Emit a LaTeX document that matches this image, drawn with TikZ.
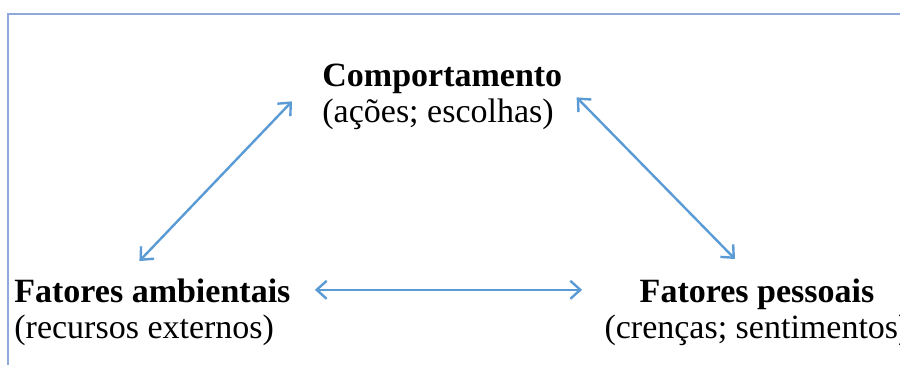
\documentclass[tikz,border=0pt]{standalone}
\usepackage{fontspec}
\setmainfont{Liberation Serif}
\usepackage{tikz}
\usetikzlibrary{arrows.meta}
\definecolor{frameblue}{HTML}{8EAADB}
\definecolor{arrowblue}{HTML}{5B9BD5}
\tikzstyle{factor} = [inner sep=0pt, align=left, font=\fontsize{17}{18}\selectfont]
\tikzstyle{factorc} = [inner sep=0pt, align=center, font=\fontsize{17}{18}\selectfont]
\tikzstyle{arrow} = [line width=1.2pt, draw=arrowblue, {Straight Barb[length=5pt,width=9pt]}-{Straight Barb[length=5pt,width=9pt]}]

\begin{document}
\begin{tikzpicture}[x=0.5pt, y=0.5pt]
	\useasboundingbox (0,0) rectangle (900,-365);
	\draw [frameblue, line width=1.2pt] (8,-365) -- (8,-14) -- (900,-14);

	\node (comp) [factor, anchor=base west] at (322,-122) {\textbf{Comportamento}\\(ações; escolhas)};
	\node (amb) [factor, anchor=base west] at (14,-338) {\textbf{Fatores ambientais}\\(recursos externos)};
	\node (pes) [factorc, anchor=base] at (757,-338) {\textbf{Fatores pessoais}\\(crenças; sentimentos)};

	\draw [arrow] ([shift={(-13,17)}]amb.north) -- ([shift={(-30,-5)}]comp.west);
	\draw [arrow] ([shift={(14,-1)}]comp.east) -- ([shift={(-22,19)}]pes.north);
	\draw [arrow] ([shift={(24,22)}]amb.east) -- ([shift={(-22,22)}]pes.west);
\end{tikzpicture}
\end{document}
